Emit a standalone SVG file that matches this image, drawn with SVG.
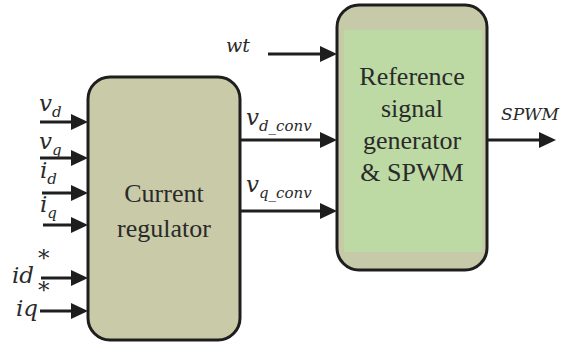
<svg xmlns="http://www.w3.org/2000/svg" width="567" height="347" viewBox="0 0 567 347">
<defs>
<style>
.box{stroke:#1e1e1e;stroke-width:3}
.lbl{font-family:'Liberation Serif','Times New Roman','DejaVu Serif',serif;font-size:26px;fill:#2a2a2a;text-anchor:middle}
.m{font-family:'DejaVu Serif',serif;font-style:italic;fill:#2a2a2a;font-size:23px}
.s{font-size:15px}
.c line{stroke:#1e1e1e;stroke-width:3}
.c path{fill:#1e1e1e}
</style>
</defs>
<rect width="567" height="347" fill="#ffffff"/>
<g id="current-regulator">
<rect class="box" x="88" y="77" width="152" height="263" rx="22" fill="#c9cba8"/>
<text class="lbl" x="164" y="202">Current</text>
<text class="lbl" x="164" y="237">regulator</text>
</g>
<g id="reference-generator">
<rect class="box" x="337" y="5" width="150" height="265" rx="22" fill="#c6caa9"/>
<rect x="344" y="30" width="138" height="222" fill="#bddaa4"/>
<text class="lbl" x="412" y="85">Reference</text>
<text class="lbl" x="412" y="117">signal</text>
<text class="lbl" x="412" y="149">generator</text>
<text class="lbl" x="412" y="181">&amp; SPWM</text>
</g>
<g class="c" id="connectors">
<line x1="40" y1="122" x2="76" y2="122"/><path d="M71,114 L88,122 L71,130 z"/>
<line x1="40" y1="158" x2="76" y2="158"/><path d="M71,150 L88,158 L71,166 z"/>
<line x1="42" y1="193" x2="76" y2="193"/><path d="M71,185 L88,193 L71,201 z"/>
<line x1="43" y1="225" x2="76" y2="225"/><path d="M71,217 L88,225 L71,233 z"/>
<line x1="41" y1="278" x2="76" y2="278"/><path d="M71,270 L88,278 L71,286 z"/>
<line x1="40" y1="311" x2="76" y2="311"/><path d="M71,303 L88,311 L71,319 z"/>
<line x1="240" y1="140" x2="325" y2="140"/><path d="M320,132 L337,140 L320,148 z"/>
<line x1="240" y1="211" x2="325" y2="211"/><path d="M320,203 L337,211 L320,219 z"/>
<line x1="268" y1="54" x2="325" y2="54"/><path d="M320,46 L337,54 L320,62 z"/>
<line x1="487" y1="140" x2="544" y2="140"/><path d="M539,132 L556,140 L539,148 z"/>
</g>
<g id="labels">
<text class="m" x="39" y="111">v<tspan class="s" dy="6">d</tspan></text>
<text class="m" x="39" y="149">v<tspan class="s" dy="6">q</tspan></text>
<text class="m" x="40" y="178">i<tspan class="s" dy="6">d</tspan></text>
<text class="m" x="40" y="212">i<tspan class="s" dy="6">q</tspan></text>
<text class="m" x="12" y="283">id</text>
<text class="m" x="38" y="266">*</text>
<text class="m" x="16" y="316">iq</text>
<text class="m" x="38" y="298">*</text>
<text class="m" x="246" y="125">v<tspan class="s" dy="6">d_conv</tspan></text>
<text class="m" x="246" y="192">v<tspan class="s" dy="6">q_conv</tspan></text>
<text class="m" x="226" y="52" style="font-size:19px">wt</text>
<text class="m" x="501" y="120" style="font-size:17px">SPWM</text>
</g>
</svg>
